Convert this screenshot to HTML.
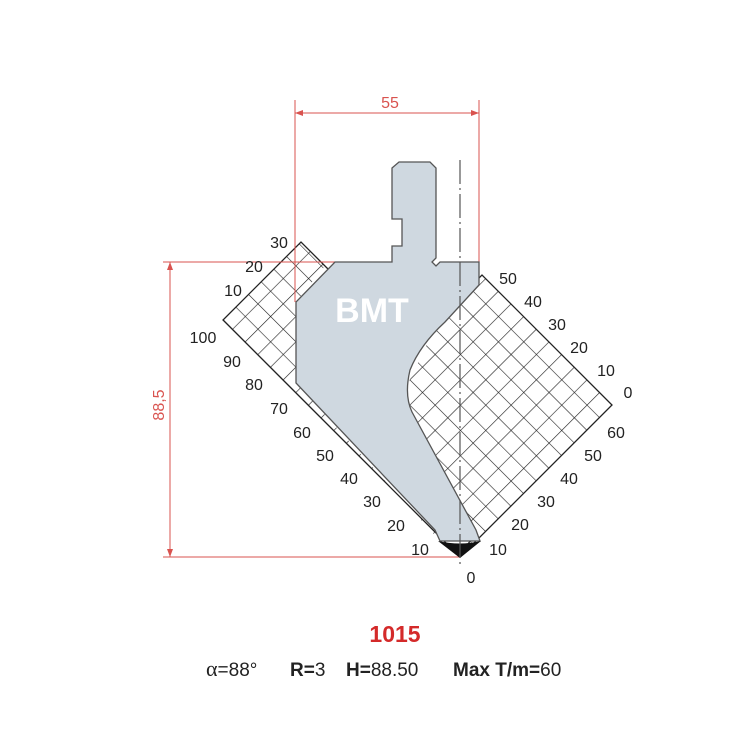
<!DOCTYPE html>
<html><head><meta charset="utf-8"><style>
body{margin:0;background:#fff;}
svg{display:block;font-family:"Liberation Sans",sans-serif;}
</style></head><body>
<svg width="740" height="740" viewBox="0 0 740 740" xmlns="http://www.w3.org/2000/svg">
<defs>
<pattern id="g" width="17.9" height="17.9" patternUnits="userSpaceOnUse" patternTransform="translate(460,557) rotate(-45)">
<path d="M0 0H17.9M0 0V17.9" stroke="#222" stroke-width="1.2" fill="none"/>
</pattern>
</defs>
<!-- grids -->
<polygon points="460,557 612,405 482,275 440,317 400,400 470,541" fill="url(#g)"/>
<polyline points="470,541 460,557 612,405 482,275 476,281" fill="none" stroke="#222" stroke-width="1.3"/>
<polygon points="460,557 223,320 301,242 325,266 296,302 296,383 440,541" fill="url(#g)"/>
<polyline points="440,541 460,557 223,320 301,242 328,269" fill="none" stroke="#222" stroke-width="1.3"/>
<!-- red dims -->
<g stroke="#d9534f" stroke-width="1" fill="none">
<line x1="295" y1="100" x2="295" y2="302"/>
<line x1="479" y1="100" x2="479" y2="262"/>
<line x1="295" y1="113" x2="479" y2="113"/>
<line x1="163" y1="262" x2="335" y2="262"/>
<line x1="163" y1="557" x2="460" y2="557"/>
<line x1="170" y1="262" x2="170" y2="557"/>
</g>
<g fill="#d9534f">
<polygon points="295,113 303,110 303,116"/><polygon points="479,113 471,110 471,116"/>
<polygon points="170,262 167,270 173,270"/><polygon points="170,557 167,549 173,549"/>
</g>
<text x="390" y="108" font-size="16" fill="#d9534f" text-anchor="middle">55</text>
<text x="164" y="405" font-size="16" fill="#d9534f" text-anchor="middle" transform="rotate(-90 164 405)">88,5</text>
<!-- tool -->
<path d="M392,168 L399,162 L430,162 L436,168 L436,258 L432,262 L436,266 L440,262 L479,262 L479,285 L445,322 Q420,345 410,370 Q404,395 412,412 L476,530 L480,541 L440,541 L435,530 L296,383 L296,302 L335,262 L392,262 L392,246 L402,246 L402,219 L392,219 Z" fill="#cfd8e0" stroke="#555" stroke-width="1.3"/>
<path d="M438,541 Q460,546 481,541 L460,558 Z" fill="#111"/>
<text x="372" y="322" font-size="34" font-weight="bold" fill="#fff" text-anchor="middle">BMT</text>
<!-- center line -->
<line x1="460" y1="160" x2="460" y2="566" stroke="#555" stroke-width="1.2" stroke-dasharray="24,4,2,4"/>
<!-- labels -->
<g font-size="16" fill="#222" text-anchor="middle">
<text x="508" y="284">50</text><text x="533" y="307">40</text><text x="557" y="330">30</text><text x="579" y="353">20</text><text x="606" y="376">10</text><text x="628" y="398">0</text>
<text x="616" y="438">60</text><text x="593" y="461">50</text><text x="569" y="484">40</text><text x="546" y="507">30</text><text x="520" y="530">20</text><text x="498" y="555">10</text><text x="471" y="583">0</text>
<text x="279" y="248">30</text><text x="254" y="272">20</text><text x="233" y="296">10</text><text x="203" y="343">100</text><text x="232" y="367">90</text><text x="254" y="390">80</text><text x="279" y="414">70</text><text x="302" y="438">60</text><text x="325" y="461">50</text><text x="349" y="484">40</text><text x="372" y="507">30</text><text x="396" y="531">20</text><text x="420" y="555">10</text>
</g>
<text x="395" y="642" font-size="23" font-weight="bold" fill="#d42a2a" text-anchor="middle">1015</text>
<g font-size="19" fill="#222">
<text x="206" y="676"><tspan font-family="Liberation Serif,serif" font-size="22">α</tspan>=88°</text>
<text x="290" y="676"><tspan font-weight="bold">R=</tspan>3</text>
<text x="346" y="676"><tspan font-weight="bold">H=</tspan>88.50</text>
<text x="453" y="676"><tspan font-weight="bold">Max T/m=</tspan>60</text>
</g>
</svg>
</body></html>
